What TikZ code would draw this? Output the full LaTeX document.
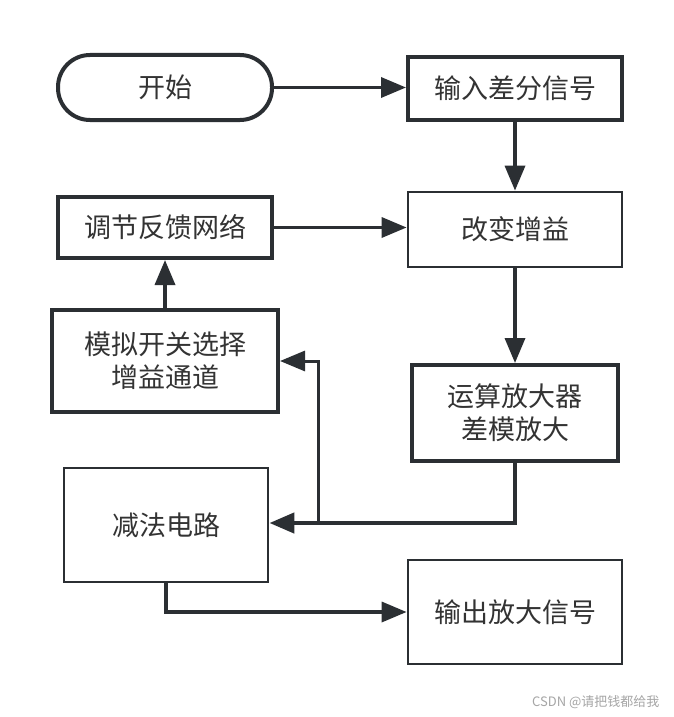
\documentclass[tikz,border=0pt]{standalone}
\usepackage{fontspec}
\setmainfont{Noto Sans CJK SC}
\usetikzlibrary{arrows.meta}
\definecolor{ln}{HTML}{2B2F33}
\definecolor{tx}{HTML}{333333}
\begin{document}
\begin{tikzpicture}[x=1pt,y=-1pt,
  box/.style={draw=ln,rectangle,line width=4pt,fill=white,text=tx,
    font=\fontsize{27}{33}\selectfont,align=center,inner sep=0pt},
  thinbox/.style={box,line width=2.8pt},
  conn/.style={draw=ln,line width=3.5pt,-{Triangle[length=25pt,width=20pt]}},
  fbconn/.style={conn,line width=3pt}]
\useasboundingbox[fill=white] (0,0) rectangle (674,717);
\node[box,rounded corners=32pt,minimum width=214pt,minimum height=65pt] (start) at (165,87.5) {开始};
\node[box,minimum width=214pt,minimum height=63pt] (input) at (515,88.5) {输入差分信号};
\node[thinbox,minimum width=214pt,minimum height=75pt] (gain) at (515,229.5) {改变增益};
\node[box,minimum width=214pt,minimum height=61pt] (fb) at (165,227.5) {调节反馈网络};
\node[box,minimum width=226pt,minimum height=102pt] (sw) at (165,361) {模拟开关选择\\增益通道};
\node[box,minimum width=206pt,minimum height=96pt] (amp) at (515,413) {运算放大器\\差模放大};
\node[thinbox,minimum width=204pt,minimum height=114pt] (sub) at (166,525) {减法电路};
\node[thinbox,minimum width=214pt,minimum height=104pt] (out) at (515,612) {输出放大信号};
\node[text=gray!70,font=\fontsize{13}{15}\selectfont,anchor=east] (wm) at (663,702) {CSDN @请把钱都给我};
\coordinate (tap) at (318,523);
\draw[conn] (start.east) -- (start.east -| input.west);
\draw[conn] (input.south) -- (gain.north);
\draw[conn] (fb.east) -- (fb.east -| gain.west);
\draw[conn] (gain.south) -- (amp.north);
\draw[fbconn] (tap) |- (sw.east);
\draw[conn,line width=4.5pt] (amp.south) |- (tap -| sub.east);
\draw[conn] (sw.north) -- (fb.south);
\draw[conn] (sub.south) |- (out.west);
\end{tikzpicture}
\end{document}
